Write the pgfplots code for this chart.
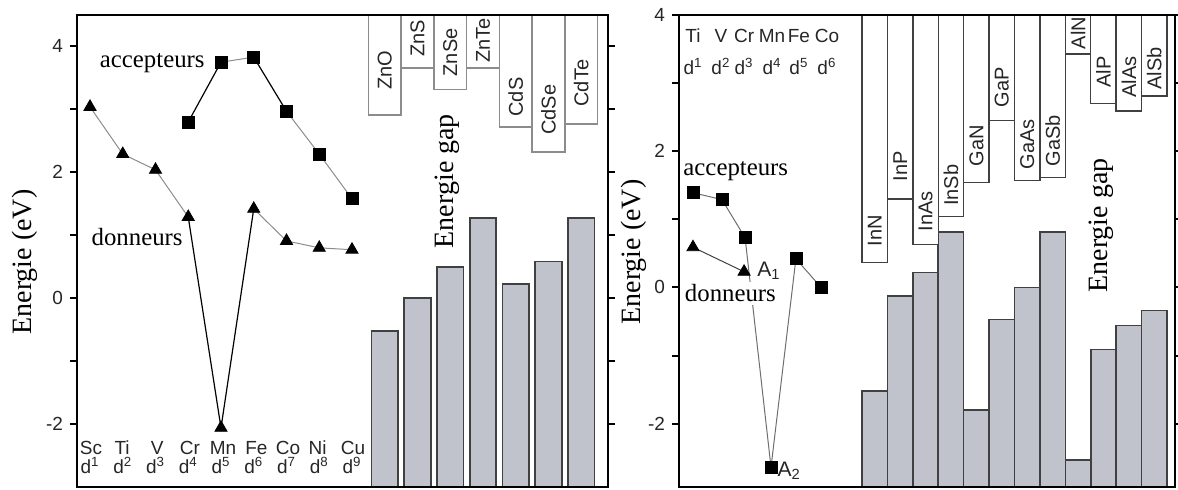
\documentclass[border=0pt]{standalone}
\usepackage{fontspec}
\setmainfont{Liberation Serif}
\newfontfamily\arial{Liberation Sans}
\usepackage{pgfplots}
\usepackage{pgfplotstable}
\pgfplotsset{compat=1.18}
\definecolor{barfill}{HTML}{C0C3CC}
\definecolor{bardraw}{HTML}{404040}
\definecolor{lgray}{HTML}{8C8C8C}
\definecolor{mgray}{HTML}{6E6E6E}
\definecolor{txt}{HTML}{262626}

% II-VI: valence top v, conduction bottom c (eV)
\pgfplotstableread{
x v c
9 -0.52 2.91
10 0.00 3.66
11 0.50 3.32
12 1.27 3.66
13 0.23 2.72
14 0.58 2.32
15 1.27 2.77
}\leftgap

% III-V
\pgfplotstableread{
x v c
0 -1.52 0.37
1 -0.13 1.30
2 0.22 0.63
3 0.81 1.04
4 -1.80 1.54
5 -0.47 2.45
6 0.00 1.57
7 0.81 1.61
8 -2.53 3.43
9 -0.91 2.70
10 -0.56 2.59
11 -0.34 2.81
}\rightgap

\pgfplotsset{
  panel/.style={scale only axis, height=236pt, anchor=south west},
  hidden/.style={panel, hide axis, ybar},
  mainax/.style={panel, clip=false, xtick=\empty,
    ytick={-2,0,2,4}, minor ytick={-1,1,3},
    tick align=outside, major tick length=3.5pt, minor tick length=3.5pt,
    ytick pos=both, yticklabel pos=left,
    every tick/.style={line width=1pt, black},
    axis line style={line width=1.1pt},
    /pgf/number format/assume math mode=true,
    yticklabel style={font=\arial\fontsize{9.5}{11}\selectfont, text=txt}},
}
\tikzset{
  tcmp/.style={rotate=90, anchor=west, inner sep=0pt, text=txt, font=\arial\fontsize{10}{11}\selectfont},
  tmet/.style={anchor=base, inner sep=0pt, text=txt, font=\arial\fontsize{9.5}{11}\selectfont},
  tlab/.style={inner sep=0pt, font=\fontsize{12.4}{14}\selectfont},
  tgap/.style={rotate=90, font=\fontsize{14}{16}\selectfont},
}

\begin{document}
\begin{tikzpicture}
\useasboundingbox (0,0) rectangle (589pt,245pt);

% ================= LEFT PANEL =================
\begin{axis}[hidden, at={(38.5pt,1.5pt)}, width=265.5pt,
  xmin=-0.397, xmax=15.817, ymin=0, ymax=7.5]
\addplot[ybar, bar width=0.81, fill=barfill, draw=bardraw, line width=0.8pt]
  table[x=x, y expr=\thisrow{v}+3]{\leftgap};
\end{axis}
\begin{axis}[hidden, at={(38.5pt,1.5pt)}, width=265.5pt,
  xmin=-0.397, xmax=15.817, ymin=0, ymax=7.5, y dir=reverse]
\addplot[ybar, bar width=1, fill=white, draw=lgray, line width=0.7pt]
  table[x=x, y expr=4.5-\thisrow{c}]{\leftgap};
\end{axis}
\begin{axis}[mainax, at={(38.5pt,1.5pt)}, width=265.5pt,
  xmin=-0.397, xmax=15.817, ymin=-3, ymax=4.5]
% donors
\addplot[lgray, line width=0.5pt] coordinates {(0,3.04)(1,2.29)(2,2.04)(3,1.29)};
\addplot[black, line width=0.6pt] coordinates {(3,1.29)(4,-2.06)(5,1.42)};
\addplot[lgray, line width=0.5pt] coordinates {(5,1.42)(6,0.91)(7,0.80)(8,0.77)};
\addplot[only marks, mark=triangle*, mark size=3.5pt, black]
  coordinates {(0,3.04)(1,2.29)(2,2.04)(3,1.29)(4,-2.06)(5,1.42)(6,0.91)(7,0.80)(8,0.77)};
% acceptors
\addplot[black, line width=0.6pt] coordinates {(3,2.80)(4,3.75)};
\addplot[lgray, line width=0.5pt] coordinates {(4,3.75)(5,3.83)};
\addplot[black, line width=0.6pt] coordinates {(5,3.83)(6,2.97)};
\addplot[lgray, line width=0.5pt] coordinates {(6,2.97)(7,2.29)(8,1.58)};
\addplot[only marks, mark=square*, mark size=3pt, black]
  coordinates {(3,2.80)(4,3.75)(5,3.83)(6,2.97)(7,2.29)(8,1.58)};
% texts
\node[tlab, anchor=base east] at (axis cs:3.51,3.66) {accepteurs};
\node[tlab, anchor=base east] at (axis cs:2.84,0.83) {donneurs};
\node[tgap] at (axis cs:10.9,1.86) {Energie gap};
\node[tcmp] at (axis cs:9,3.31) {ZnO};
\node[tcmp] at (axis cs:10,3.83) {ZnS};
\node[tcmp] at (axis cs:11,3.52) {ZnSe};
\node[tcmp] at (axis cs:12,3.74) {ZnTe};
\node[tcmp] at (axis cs:13,2.88) {CdS};
\node[tcmp] at (axis cs:14,2.59) {CdSe};
\node[tcmp] at (axis cs:15,3.04) {CdTe};
\node[tmet] at (axis cs:0.03,-2.48) {Sc};
\node[tmet] at (axis cs:0.98,-2.48) {Ti};
\node[tmet] at (axis cs:2.05,-2.48) {V};
\node[tmet] at (axis cs:3.05,-2.48) {Cr};
\node[tmet] at (axis cs:4.06,-2.48) {Mn};
\node[tmet] at (axis cs:5.08,-2.48) {Fe};
\node[tmet] at (axis cs:6.05,-2.48) {Co};
\node[tmet] at (axis cs:6.95,-2.48) {Ni};
\node[tmet] at (axis cs:8.03,-2.48) {Cu};
\node[tmet] at (axis cs:0,-2.79) {d\textsuperscript{1}};
\node[tmet] at (axis cs:1,-2.79) {d\textsuperscript{2}};
\node[tmet] at (axis cs:2,-2.79) {d\textsuperscript{3}};
\node[tmet] at (axis cs:3,-2.79) {d\textsuperscript{4}};
\node[tmet] at (axis cs:4,-2.79) {d\textsuperscript{5}};
\node[tmet] at (axis cs:5,-2.79) {d\textsuperscript{6}};
\node[tmet] at (axis cs:6,-2.79) {d\textsuperscript{7}};
\node[tmet] at (axis cs:7,-2.79) {d\textsuperscript{8}};
\node[tmet] at (axis cs:8,-2.79) {d\textsuperscript{9}};
\end{axis}

% ================= RIGHT PANEL =================
\begin{axis}[hidden, at={(339.5pt,1.5pt)}, width=248pt,
  xmin=-7.700, xmax=11.815, ymin=0, ymax=6.93]
\addplot[ybar, bar width=1, fill=barfill, draw=bardraw, line width=0.8pt]
  table[x=x, y expr=\thisrow{v}+2.93]{\rightgap};
\end{axis}
\begin{axis}[hidden, at={(339.5pt,1.5pt)}, width=248pt,
  xmin=-7.700, xmax=11.815, ymin=0, ymax=6.93, y dir=reverse]
\addplot[ybar, bar width=1, fill=white, draw=bardraw, line width=0.7pt]
  table[x=x, y expr=4-\thisrow{c}]{\rightgap};
\end{axis}
\begin{axis}[mainax, at={(339.5pt,1.5pt)}, width=248pt,
  xmin=-7.700, xmax=11.815, ymin=-2.93, ymax=4]
\addplot[mgray, line width=0.5pt] coordinates {(-7.15,1.39)(-6.01,1.29)(-5.10,0.73)(-4.08,-2.64)(-3.10,0.42)(-2.11,0.0)};
\addplot[bardraw, line width=0.5pt] coordinates {(-7.15,0.59)(-5.14,0.23)};
\addplot[only marks, mark=square*, mark size=3pt, black]
  coordinates {(-7.15,1.39)(-6.01,1.29)(-5.10,0.73)(-4.08,-2.64)(-3.10,0.42)(-2.11,0.0)};
\addplot[only marks, mark=triangle*, mark size=3.5pt, black]
  coordinates {(-7.15,0.59)(-5.14,0.23)};
\node[tlab, anchor=base west] at (axis cs:-7.54,1.64) {accepteurs};
\node[tlab, anchor=base west, fill=white, inner sep=1.5pt] at (axis cs:-7.6,-0.21) {donneurs};
\node[tmet, anchor=base west, font=\arial\fontsize{10.5}{12}\selectfont] at (axis cs:-4.63,0.16) {A\textsubscript{1}};
\node[tmet, anchor=base west, font=\arial\fontsize{10.5}{12}\selectfont] at (axis cs:-3.84,-2.77) {A\textsubscript{2}};
\node[tgap] at (axis cs:8.9,0.91) {Energie gap};
\node[tmet] at (axis cs:-7.15,3.59) {Ti};
\node[tmet] at (axis cs:-6.05,3.59) {V};
\node[tmet] at (axis cs:-5.14,3.59) {Cr};
\node[tmet] at (axis cs:-4.04,3.59) {Mn};
\node[tmet] at (axis cs:-2.98,3.59) {Fe};
\node[tmet] at (axis cs:-1.88,3.59) {Co};
\node[tmet] at (axis cs:-7.15,3.12) {d\textsuperscript{1}};
\node[tmet] at (axis cs:-6.05,3.12) {d\textsuperscript{2}};
\node[tmet] at (axis cs:-5.14,3.12) {d\textsuperscript{3}};
\node[tmet] at (axis cs:-4.04,3.12) {d\textsuperscript{4}};
\node[tmet] at (axis cs:-2.98,3.12) {d\textsuperscript{5}};
\node[tmet] at (axis cs:-1.88,3.12) {d\textsuperscript{6}};
\node[tcmp] at (axis cs:0,0.60) {InN};
\node[tcmp] at (axis cs:1,1.55) {InP};
\node[tcmp] at (axis cs:2,0.82) {InAs};
\node[tcmp] at (axis cs:3,1.19) {InSb};
\node[tcmp] at (axis cs:4,1.77) {GaN};
\node[tcmp] at (axis cs:5,2.64) {GaP};
\node[tcmp] at (axis cs:6,1.73) {GaAs};
\node[tcmp] at (axis cs:7,1.77) {GaSb};
\node[tcmp] at (axis cs:8,3.49) {AlN};
\node[tcmp] at (axis cs:9,2.93) {AlP};
\node[tcmp] at (axis cs:10,2.78) {AlAs};
\node[tcmp] at (axis cs:11,2.90) {AlSb};
\end{axis}

% y labels
\node[rotate=90, font=\fontsize{14}{16}\selectfont] at (12.5pt,114pt) {Energie (eV)};
\node[rotate=90, font=\fontsize{14}{16}\selectfont] at (317pt,119pt) {Energie (eV)};
\end{tikzpicture}
\end{document}
